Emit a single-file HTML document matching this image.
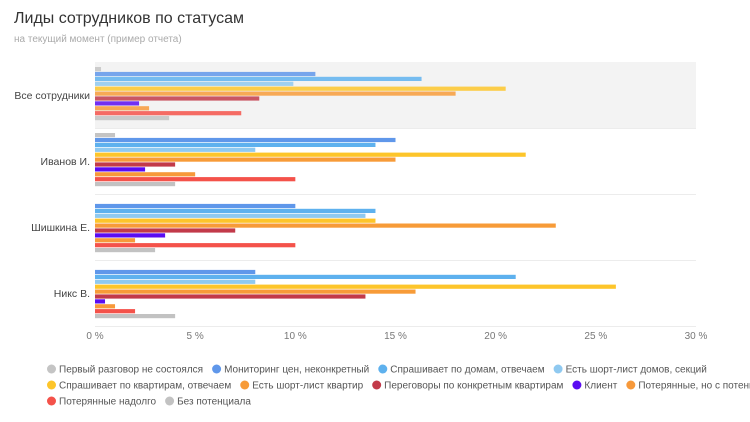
<!DOCTYPE html>
<html><head><meta charset="utf-8"><style>
body{margin:0;background:#fff;font-family:"Liberation Sans",sans-serif;}
#wrap{position:relative;width:750px;height:422px;overflow:hidden;}
.t{position:absolute;left:14px;top:10px;font-size:16px;color:#333;}
.s{position:absolute;left:14px;top:34px;font-size:10px;color:#aaa;}
</style></head><body>
<div id="wrap">
<div class="t">Лиды сотрудников по статусам</div>
<div class="s">на текущий момент (пример отчета)</div>
<svg id="c" width="750" height="422" style="position:absolute;left:0;top:0"></svg>
</div>
<script>
const categories=["Все сотрудники","Иванов И.","Шишкина Е.","Никс В."];
const seriesNames=["Первый разговор не состоялся","Мониторинг цен, неконкретный","Спрашивает по домам, отвечаем","Есть шорт-лист домов, секций","Спрашивает по квартирам, отвечаем","Есть шорт-лист квартир","Переговоры по конкретным квартирам","Клиент","Потерянные, но с потенциалом","Потерянные надолго","Без потенциала"];
const colors=["#c4c4c4","#5f97ea","#5eb1ee","#8fc9f0","#fdc52a","#f79b38","#c23a49","#5a0cf2","#f7993a","#f4524a","#c2c2c2"];
const s0=[0.3,1,0,0];
const s1=[11,15,10,8];
const s2=[16.3,14,14,21];
const s3=[9.9,8,13.5,8];
const s4=[20.5,21.5,14,26];
const s5=[18,15,23,16];
const s6=[8.2,4,7,13.5];
const s7=[2.2,2.5,3.5,0.5];
const s8=[2.7,5,2,1];
const s9=[7.3,10,10,2];
const s10=[3.7,4,3,4];
const series=[s0,s1,s2,s3,s4,s5,s6,s7,s8,s9,s10];
const ticks=[0,5,10,15,20,25,30];
const tickLabels=["0 %","5 %","10 %","15 %","20 %","25 %","30 %"];
const NS="http://www.w3.org/2000/svg";
const svg=document.getElementById('c');
const X0=95,X1=696,Y0=62,BAND=66;
const xs=v=>X0+(v/30)*(X1-X0);
function mk(t,a){const e=document.createElementNS(NS,t);for(const k in a)e.setAttribute(k,a[k]);svg.appendChild(e);return e;}
// band highlight
const hb=mk('rect',{x:X0,y:Y0,width:X1-X0,height:BAND,fill:'#f3f3f3'});


for(let g=1;g<=categories.length;g++){
 const l=mk('line',{x1:X0,x2:X1,y1:Y0+g*BAND+0.5,y2:Y0+g*BAND+0.5,stroke:'#ececec'});
 
 
}
categories.forEach((c,g)=>{
 const t=mk('text',{x:90,y:Y0+g*BAND+BAND/2+4,'text-anchor':'end','font-size':'10.5',fill:'#444'});
 t.textContent=c;
 
 
 series.forEach((s,i)=>{
  const v=s[g]; if(!v) return;
  const r=mk('rect',{x:X0,y:Y0+g*BAND+5+i*4.9,width:xs(v)-X0,height:4.2,fill:colors[i],opacity:g==0?0.85:1});
  
  
 });
});
ticks.forEach((v,i)=>{
 const t=mk('text',{x:xs(v),y:339,'text-anchor':'middle','font-size':'10',fill:'#777'});
 t.textContent=tickLabels[i];
 
 
});
// legend
const rows=[[0,1,2,3],[4,5,6,7,8],[9,10]];
const startX=[47,47,47];
const ctx=document.createElement('canvas').getContext('2d');ctx.font='10px "Liberation Sans"';
rows.forEach((r,ri)=>{
 let x=startX[ri];const y=369+ri*16;
 r.forEach(i=>{
  const d=mk('circle',{cx:x+4.5,cy:y,r:4.5,fill:colors[i]});
  
  
  const t=mk('text',{x:x+12,y:y+3.5,'font-size':'10',fill:'#555'});
  t.textContent=seriesNames[i];
  
  
  x+=12+ctx.measureText(seriesNames[i]).width+9;
 });
});
</script>
</body></html>
